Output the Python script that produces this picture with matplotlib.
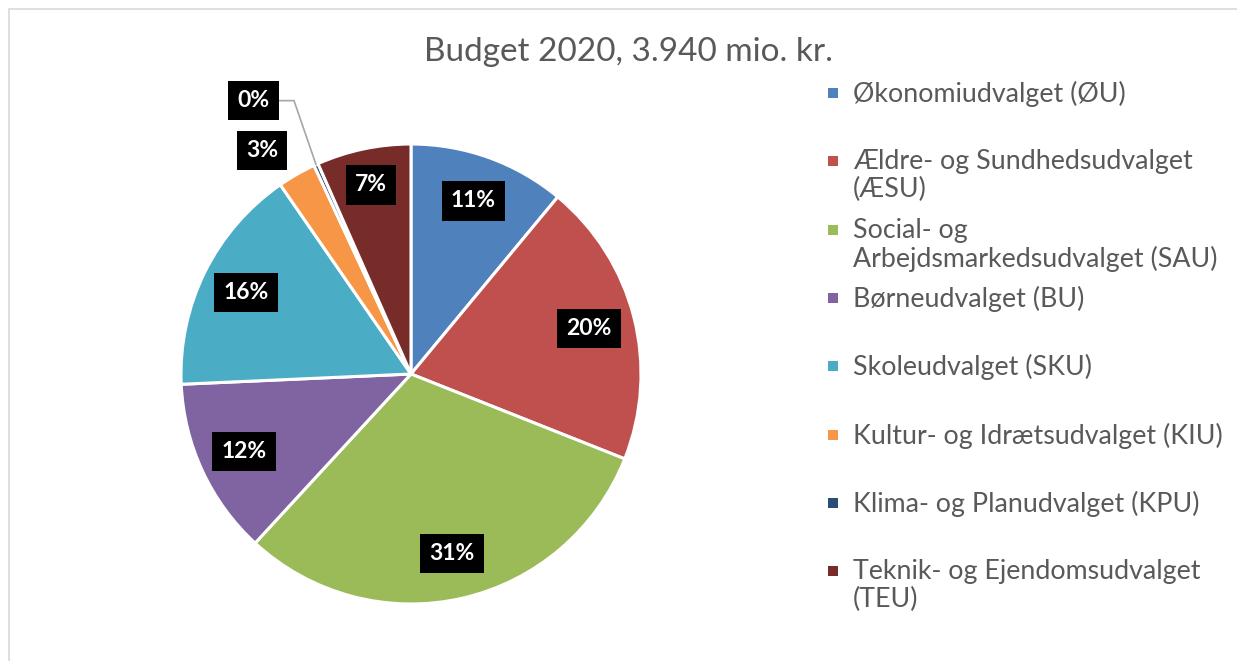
import matplotlib.pyplot as plt
from matplotlib.patches import Rectangle
import numpy as np

plt.rcParams['font.family'] = ['Lato', 'DejaVu Sans']

# budget per udvalg, mio. kr.
names = ['Økonomiudvalget (ØU)', 'Ældre- og Sundhedsudvalget\n(ÆSU)',
         'Social- og\nArbejdsmarkedsudvalget (SAU)', 'Børneudvalget (BU)',
         'Skoleudvalget (SKU)', 'Kultur- og Idrætsudvalget (KIU)',
         'Klima- og Planudvalget (KPU)', 'Teknik- og Ejendomsudvalget\n(TEU)']
values = [434, 788, 1215, 490, 634, 106, 12, 261]
colors = ['#4F81BD', '#C0504D', '#9BBB59', '#8064A2',
          '#4BACC6', '#F79646', '#2C4D75', '#772C2A']
title = 'Budget 2020, 3.940 mio. kr.'

W, H = 1237, 661
fig = plt.figure(figsize=(W / 100, H / 100), dpi=100)

# frame of the chart area
fig.patches.append(Rectangle((9 / W, -0.1), 1.2, 1 - 9 / H + 0.1, transform=fig.transFigure,
                             fill=False, edgecolor='#D9D9D9', linewidth=1.2))

cx, cy, r = 411, 374, 230
ax = fig.add_axes([(cx - r) / W, (H - cy - r) / H, 2 * r / W, 2 * r / H])

wedges, _ = ax.pie(values, colors=colors, startangle=90, counterclock=False, radius=1,
                   wedgeprops=dict(edgecolor='white', linewidth=2.2))
ax.set_xlim(-1, 1)
ax.set_ylim(-1, 1)
ax.axis('off')

total = sum(values)
box = dict(boxstyle='square,pad=0.4', facecolor='black', edgecolor='none')
lab = dict(ha='center', va='center', color='white', fontsize=16.5, fontweight='bold', bbox=box)
for i, w in enumerate(wedges):
    pct = '%d%%' % round(values[i] / total * 100)
    mid = np.deg2rad((w.theta1 + w.theta2) / 2)
    if i == 5:
        ax.annotate(pct, (np.cos(mid), np.sin(mid)), xytext=(-25, 17), textcoords='offset points', **lab)
    elif i == 6:
        ax.annotate(pct, (np.cos(mid), np.sin(mid)), xytext=(-45, 46), textcoords='offset points',
                    arrowprops=dict(arrowstyle='-', color='#A6A6A6', lw=1.2, shrinkA=0, shrinkB=0,
                                    connectionstyle='angle,angleA=0,angleB=109,rad=0'), **lab)
    else:
        rr = 0.84 if i == 7 else 0.8
        ax.text(rr * np.cos(mid), rr * np.sin(mid), pct, **lab)

fig.text(628 / W, 1 - 52 / H, title, ha='center', va='center', fontsize=24, color='#595959')

# legend, Excel style: fixed slot spacing, first line aligned with marker
for i, name in enumerate(names):
    y = 93 + i * 68.3
    fig.patches.append(Rectangle(((833 - 5) / W, 1 - (y + 5) / H), 10 / W, 10 / H,
                                 transform=fig.transFigure, facecolor=colors[i], edgecolor='none'))
    fig.text(853 / W, 1 - (y - 12) / H, name, ha='left', va='top', fontsize=19.3,
             color='#595959', linespacing=1.15)

fig.savefig('out.png', dpi=100)
